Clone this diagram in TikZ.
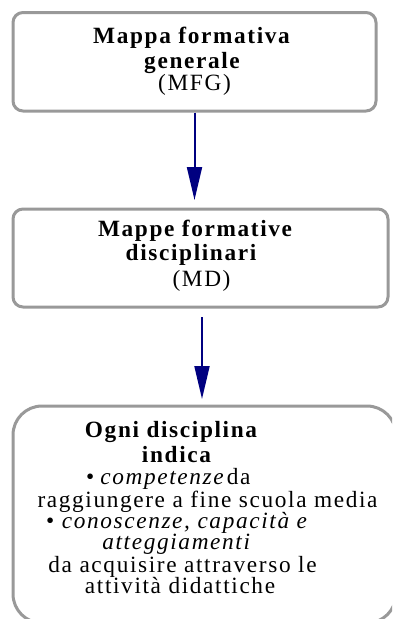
\documentclass[tikz,border=0pt]{standalone}
\usepackage{fontspec}
\setmainfont{Liberation Serif}[LetterSpace=7]
\usetikzlibrary{arrows.meta}
\definecolor{boxgray}{HTML}{999999}
\definecolor{arrnavy}{HTML}{000080}
\tikzset{
  box/.style={draw=boxgray, line width=3pt, fill=white, rectangle, inner sep=0pt, outer sep=0pt},
  txt/.style={anchor=base, inner sep=0pt, font=\fontsize{23.3}{25}\selectfont, text=black},
  arr/.style={draw=arrnavy, line width=2pt, -{Triangle[length=33pt,width=15pt]}},
}
\begin{document}
\begin{tikzpicture}[x=1pt,y=-1pt]
\useasboundingbox (0,0) rectangle (392,619);
\clip (0,0) rectangle (392,619);
% boxes
\node[box, rounded corners=10pt, minimum width=363pt, minimum height=98.5pt] (b1) at (194.5,61.75) {};
\node[box, rounded corners=10pt, minimum width=375pt, minimum height=98pt] (b2) at (200.5,258) {};
\node[box, rounded corners=29pt, minimum width=383pt, minimum height=217pt] (b3) at (204.5,514.5) {};
% box 1 text
\node[txt] (t1a) at (191.5,43) {\bfseries Mappa formativa};
\node[txt] (t1b) at (192,68) {\bfseries generale};
\node[txt] (t1c) at (194.5,90) {(MFG)};
% box 2 text
\node[txt] (t2a) at (195,236) {\bfseries Mappe formative};
\node[txt] (t2b) at (191,260) {\bfseries disciplinari};
\node[txt] (t2c) at (201.5,286) {(MD)};
% box 3 text
\node[txt] (t3a) at (171,437) {\bfseries Ogni disciplina};
\node[txt] (t3b) at (176.5,462) {\bfseries indica};
\node[txt, anchor=base west] (t3c) at (86,484) {\textbullet\hspace{6pt}\textit{competenze}\hspace{1.5pt}da};
\node[txt] (t3d) at (207.5,507) {raggiungere a fine scuola media};
\node[txt, anchor=base west] (t3e) at (46,528) {\textbullet\ \textit{conoscenze, capacità e}};
\node[txt] (t3f) at (177,549) {\textit{atteggiamenti}};
\node[txt] (t3g) at (182.5,572) {da acquisire attraverso le};
\node[txt] (t3h) at (180,593) {attività didattiche};
% arrows
\draw[arr, shorten <=1.5pt, shorten >=9pt] (b1.south) -- (b1.south |- b2.north);
\draw[arr, shorten <=10pt, shorten >=7pt] ([xshift=1.5pt]b2.south) -- ([xshift=1.5pt]b2.south |- b3.north);
\end{tikzpicture}
\end{document}
